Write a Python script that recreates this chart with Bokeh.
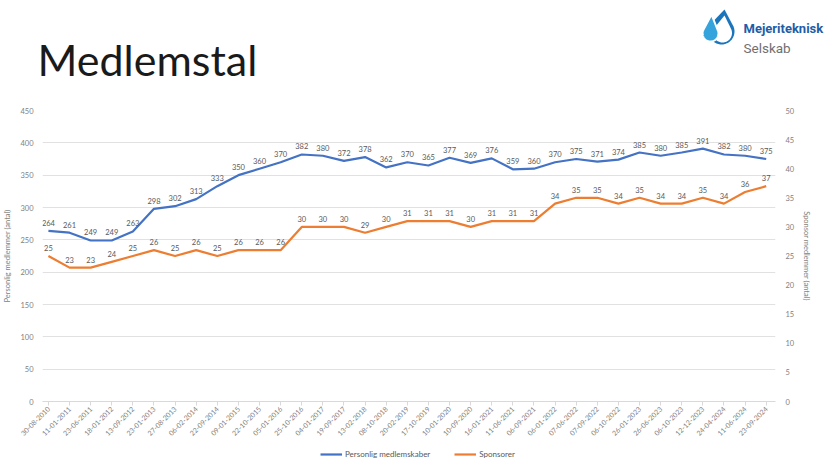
import math
import numpy as np
from bokeh.plotting import figure
from bokeh.models import (Range1d, LinearAxis, FixedTicker, ColumnDataSource,
                          LabelSet, Legend, LegendItem)
from bokeh.layouts import column, row
from bokeh.embed import file_html
from bokeh.resources import INLINE
from bokeh.core.properties import value

# ---------------- data ----------------
dates = ["30-08-2010", "11-01-2011", "23-06-2011", "18-01-2012", "13-09-2012",
         "23-01-2013", "27-08-2013", "06-02-2014", "22-09-2014", "09-01-2015",
         "22-10-2015", "05-01-2016", "25-10-2016", "04-01-2017", "19-09-2017",
         "13-02-2018", "08-10-2018", "20-02-2019", "17-10-2019", "10-01-2020",
         "10-09-2020", "16-01-2021", "11-06-2021", "06-09-2021", "06-01-2022",
         "07-06-2022", "07-09-2022", "06-10-2022", "26-01-2023", "26-06-2023",
         "06-10-2023", "12-12-2023", "24-04-2024", "11-06-2024", "23-09-2024"]
personlig = [264, 261, 249, 249, 263, 298, 302, 313, 333, 350, 360, 370, 382, 380,
             372, 378, 362, 370, 365, 377, 369, 376, 359, 360, 370, 375, 371, 374,
             385, 380, 385, 391, 382, 380, 375]
sponsor = [25, 23, 23, 24, 25, 26, 25, 26, 25, 26, 26, 26, 30, 30, 30, 29, 30, 31,
           31, 31, 30, 31, 31, 31, 34, 35, 35, 34, 35, 34, 34, 35, 34, 36, 37]
left_ticks = list(range(0, 451, 50))
right_ticks = list(range(0, 51, 5))

title_text = "Medlemstal"
logo_line1 = "Mejeriteknisk"
logo_line2 = "Selskab"
series_names = ["Personlig medlemskaber", "Sponsorer"]
left_title = "Personlig medlemmer (antal)"
right_title = "Sponsor medlemmer (antal)"

BLUE = "#4472C4"
ORANGE = "#ED7D31"
GRID = "#d9d9d9"
TXT = "#595959"
AX = "#7f7f7f"
FONT = "Lato"
W = 825
HH = 96     # header strip
MH = 345    # chart
LH = 18     # legend strip


def figure_blank(h):
    f = figure(width=W, height=h, x_range=Range1d(0, W), y_range=Range1d(0, h),
               output_backend="svg", toolbar_location=None, min_border=0,
               x_axis_location=None, y_axis_location=None)
    f.grid.visible = False
    f.outline_line_color = None
    return f


# ---------------- header ----------------
hdr = figure_blank(HH)


def hy(py):
    return HH - py


hdr.text(x=[37], y=[hy(58.5)], text=[title_text], text_font=value(FONT),
         text_font_size="43px", text_color="#1a1a1a", text_baseline="middle")


def drop(cx, cy, r, tx, ty, n=60):
    cy, ty = hy(cy), hy(ty)
    d = math.hypot(tx - cx, ty - cy)
    phi = math.atan2(ty - cy, tx - cx)
    a = math.acos(r / d)
    ang = np.linspace(phi + a, phi + 2 * math.pi - a, n)
    return [tx] + list(cx + r * np.cos(ang)), [ty] + list(cy + r * np.sin(ang))


bx, by = drop(721, 31, 13, 724, 9)
hdr.patch(bx, by, fill_color="#1B75BB", line_color=None)
ix, iy = drop(722, 32.5, 9.5, 724, 15)
hdr.patch(ix, iy, fill_color="white", line_color=None)
sx, sy = drop(710, 33, 8, 711, 14)
hdr.patch(sx, sy, fill_color="#35A3DC", line_color="white", line_width=2)

hdr.text(x=[743], y=[hy(28)], text=[logo_line1], text_font=value("Roboto"),
         text_font_size="13px", text_font_style="bold", text_color="#1F5DA8",
         text_baseline="middle")
hdr.text(x=[743], y=[hy(47)], text=[logo_line2], text_font=value("Roboto"),
         text_font_size="13.5px", text_color="#707070", text_baseline="middle")

# ---------------- main chart ----------------
xs = list(range(len(dates)))
src = ColumnDataSource(dict(x=xs, p=personlig, s=sponsor,
                            pl=[str(v) for v in personlig],
                            sl=[str(v) for v in sponsor]))

p = figure(width=W, height=MH, x_range=Range1d(-0.28, len(dates) - 1 + 0.44),
           y_range=Range1d(0, 450), output_backend="svg", toolbar_location=None,
           min_border_left=34, min_border_right=50, min_border_top=14,
           min_border_bottom=38)
p.outline_line_color = None
p.xgrid.visible = False
p.ygrid.grid_line_color = GRID
p.ygrid.grid_line_width = 0.8
p.ygrid.ticker = FixedTicker(ticks=left_ticks)
p.extra_y_ranges = {"sponsor": Range1d(0, 50)}

la = p.yaxis[0]
la.ticker = FixedTicker(ticks=left_ticks)
la.axis_line_color = None
la.major_tick_line_color = None
la.minor_tick_line_color = None
la.major_label_standoff = 3
la.major_label_text_font = FONT
la.major_label_text_font_size = "7.5px"
la.major_label_text_color = AX
la.axis_label = left_title
la.axis_label_standoff = 5
la.axis_label_text_font = FONT
la.axis_label_text_font_size = "7.5px"
la.axis_label_text_font_style = "normal"
la.axis_label_text_color = AX

ra = LinearAxis(y_range_name="sponsor", ticker=FixedTicker(ticks=right_ticks))
ra.axis_line_color = None
ra.major_tick_line_color = None
ra.minor_tick_line_color = None
ra.major_label_standoff = 4
ra.major_label_text_font = FONT
ra.major_label_text_font_size = "7.5px"
ra.major_label_text_color = AX
ra.axis_label = right_title
ra.axis_label_standoff = 5
ra.axis_label_text_font = FONT
ra.axis_label_text_font_size = "7.5px"
ra.axis_label_text_font_style = "normal"
ra.axis_label_text_color = AX
p.add_layout(ra, "right")

ba = p.xaxis[0]
ba.ticker = FixedTicker(ticks=xs)
ba.major_label_overrides = {i: d for i, d in zip(xs, dates)}
ba.major_label_orientation = math.pi / 4
ba.axis_line_color = GRID
ba.major_tick_line_color = GRID
ba.major_tick_in = 0
ba.major_tick_out = 4
ba.minor_tick_line_color = None
ba.major_label_standoff = 2
ba.major_label_text_font = FONT
ba.major_label_text_font_size = "7px"
ba.major_label_text_color = AX

r1 = p.line("x", "p", source=src, line_color=BLUE, line_width=2.2)
r2 = p.line("x", "s", source=src, line_color=ORANGE, line_width=2.2,
            y_range_name="sponsor")

for col, txt, rng in (("p", "pl", "default"), ("s", "sl", "sponsor")):
    p.add_layout(LabelSet(x="x", y=col, text=txt, source=src, y_offset=5,
                          y_range_name=rng, text_align="center",
                          text_baseline="bottom", text_font=value(FONT),
                          text_font_size="7.5px", text_color=TXT))

# ---------------- legend strip ----------------
lf = figure_blank(LH)
d1 = lf.line(x=[-50, -40], y=[-50, -50], line_color=BLUE, line_width=2.2)
d2 = lf.line(x=[-50, -40], y=[-50, -50], line_color=ORANGE, line_width=2.2)
leg = Legend(items=[LegendItem(label=series_names[0], renderers=[d1]),
                    LegendItem(label=series_names[1], renderers=[d2])],
             orientation="horizontal", location=(320, 0))
leg.background_fill_alpha = 0
leg.border_line_color = None
leg.padding = 2
leg.margin = 0
leg.spacing = 24
leg.glyph_width = 22
leg.glyph_height = 10
leg.label_standoff = 3
leg.label_height = 10
leg.label_text_font = FONT
leg.label_text_font_size = "8px"
leg.label_text_color = TXT
lf.add_layout(leg, "center")

layout = column(row(hdr), row(p), row(lf), spacing=0)
open("out.html", "w").write(file_html(layout, INLINE))
